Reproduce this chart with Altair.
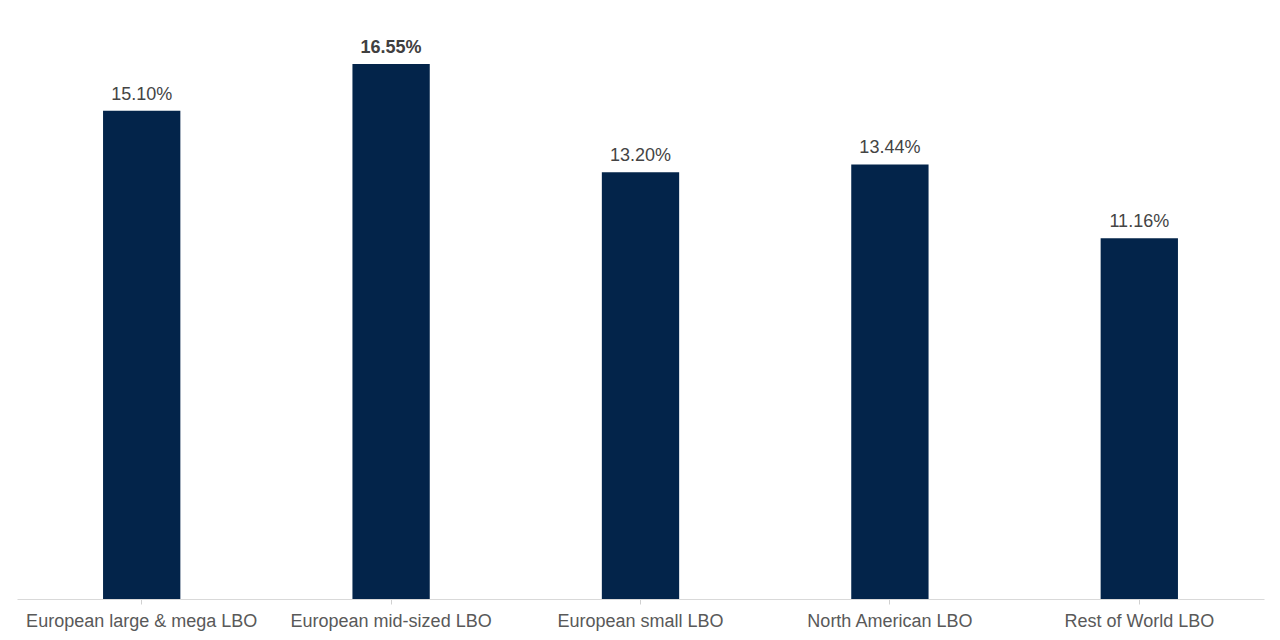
import altair as alt
import pandas as pd

categories = ["European large & mega LBO", "European mid-sized LBO", "European small LBO",
              "North American LBO", "Rest of World LBO"]
values = [15.10, 16.55, 13.20, 13.44, 11.16]
labels = ["15.10%", "16.55%", "13.20%", "13.44%", "11.16%"]
bold = [False, True, False, False, False]

df = pd.DataFrame({"cat": categories, "val": values, "label": labels,
                   "weight": ["bold" if b else "normal" for b in bold]})

x = alt.X("cat:N", sort=categories, title=None,
          scale=alt.Scale(paddingInner=0.69, paddingOuter=0.345),
          axis=alt.Axis(labelAngle=0, labelFont="Liberation Sans", labelFontSize=18,
                        labelColor="#595959", labelPadding=8, domainColor="#d9d9d9",
                        ticks=True, tickColor="#d0d0d0", tickSize=5, labelLimit=400))
y = alt.Y("val:Q", scale=alt.Scale(domain=[0, 18.28], nice=False), axis=None)

bars = alt.Chart(df).mark_bar(color="#03244A").encode(x=x, y=y)

text_norm = alt.Chart(df).transform_filter("datum.weight == 'normal'").mark_text(
    dy=-16, font="Liberation Sans", fontSize=18, color="#444444"
).encode(x=alt.X("cat:N", sort=categories), y="val:Q", text="label:N")

text_bold = alt.Chart(df).transform_filter("datum.weight == 'bold'").mark_text(
    dy=-16, font="Liberation Sans", fontSize=18, fontWeight="bold", color="#404040"
).encode(x=alt.X("cat:N", sort=categories), y="val:Q", text="label:N")

chart = alt.layer(bars, text_norm, text_bold).properties(
    width=1247, height=591,
    padding={"left": 9, "top": 0, "right": 5, "bottom": 5},
    background="white"
).configure_view(strokeWidth=0, stroke="transparent")

chart.save("out.html", embed_options={"renderer": "svg", "actions": False})
